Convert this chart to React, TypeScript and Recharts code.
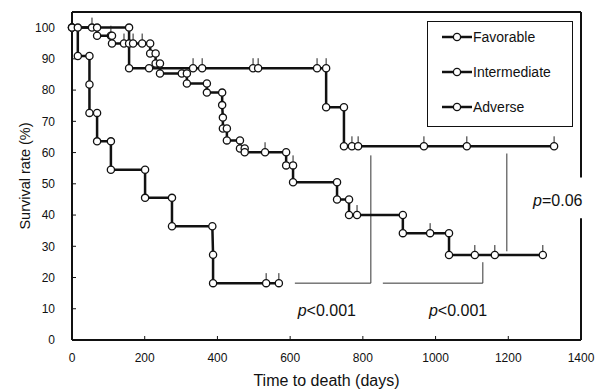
import React from 'react'
import {
  LineChart,
  Line,
  XAxis,
  YAxis,
  ReferenceLine,
  ReferenceDot,
  Legend,
  Label,
} from 'recharts'

// Kaplan-Meier vertices: [day, survival %, censored (1) or not (0)]
const favorable: [number, number, number][] = [
  [0, 100, 0], [55, 100, 1], [157, 100, 0], [157, 87, 0], [212, 87, 0],
  [333, 87, 1], [358, 87, 1], [498, 87, 1], [512, 87, 1], [674, 87, 1],
  [699, 87, 1], [699, 74.5, 0], [748, 74.5, 0], [748, 62, 0], [770, 62, 1],
  [787, 62, 1], [968, 62, 1], [1086, 62, 1], [1326, 62, 1],
]

const intermediate: [number, number, number][] = [
  [0, 100, 0], [69, 100, 0], [69, 97.4, 0], [107, 97.4, 1], [110, 97.4, 0],
  [110, 94.9, 0], [143, 94.9, 1], [157, 94.9, 1], [168, 94.9, 1], [193, 94.9, 1],
  [215, 94.9, 0], [215, 91.7, 0], [230, 91.7, 0], [230, 88.5, 0], [242, 88.5, 0],
  [242, 85.3, 0], [302, 85.3, 0], [316, 85.3, 0], [316, 82.1, 0], [371, 82.1, 0],
  [371, 79.2, 0], [413, 79.2, 0], [413, 75.2, 0], [415, 71.2, 0], [415, 67.7, 0],
  [426, 67.7, 0], [426, 63.9, 0], [462, 63.9, 0], [462, 61.3, 0], [475, 61.3, 0],
  [475, 60.1, 0], [531, 60.1, 1], [589, 60.1, 0], [589, 55.9, 0], [608, 55.9, 1],
  [608, 50.5, 0], [729, 50.5, 0], [729, 45, 0], [762, 45, 0], [762, 40, 0],
  [784, 40, 1], [910, 40, 0], [910, 34.2, 0], [985, 34.2, 1], [1037, 34.2, 0],
  [1037, 27.2, 0], [1108, 27.2, 1], [1163, 27.2, 1], [1295, 27.2, 1],
]

const adverse: [number, number, number][] = [
  [0, 100, 0], [16, 100, 0], [16, 90.9, 0], [48, 90.9, 0], [48, 81.8, 0],
  [48, 72.7, 0], [69, 72.7, 0], [69, 63.6, 0], [107, 63.6, 0], [107, 54.5, 0],
  [201, 54.5, 0], [201, 45.5, 0], [275, 45.5, 0], [275, 36.4, 0], [386, 36.4, 0],
  [388, 27.3, 0], [388, 18.2, 0], [534, 18.2, 1], [569, 18.2, 1],
]

const seriesNames = ['Favorable', 'Intermediate', 'Adverse']
const xTicks = [0, 200, 400, 600, 800, 1000, 1200, 1400]
const yTicks = [0, 10, 20, 30, 40, 50, 60, 70, 80, 90, 100]

// log-rank comparison brackets (day, %)
const brackets: [number, number, number, number][] = [
  [822, 59.1, 822, 18.2],
  [613, 18.2, 822, 18.2],
  [855, 18.2, 1130, 18.2],
  [1130, 18.2, 1130, 24.9],
  [1196, 59.7, 1196, 28.4],
]
const pLabels: { x: number; y: number; text: string }[] = [
  { x: 701, y: 9.6, text: '<0.001' },
  { x: 1062, y: 9.6, text: '<0.001' },
  { x: 1336, y: 44.7, text: '=0.06' },
]

// top and right frame, right side broken by the p label
const frame: [number, number, number, number][] = [
  [0, 105, 1400, 105],
  [1400, 105, 1400, 52],
  [1400, 39, 1400, 0],
]

const font = '"Liberation Sans", Arial, sans-serif'
const ink = '#111'

const toRows = (pts: [number, number, number][]) =>
  pts.map(([d, s, c]) => ({ d, s, c }))

const KmDot = (props: any) => {
  const { cx, cy, payload, index } = props
  if (cx == null || cy == null) return null
  return (
    <g key={`dot-${index}`}>
      {payload.c ? (
        <line x1={cx} x2={cx} y1={cy - 10} y2={cy - 3} stroke="#222" strokeWidth={1} />
      ) : null}
      <circle cx={cx} cy={cy} r={3.6} fill="#fff" stroke={ink} strokeWidth={1.3} />
    </g>
  )
}

const LegendBox = () => (
  <div
    style={{
      border: '1.5px solid #111',
      background: '#fff',
      width: 146,
      height: 106,
      boxSizing: 'border-box',
      paddingLeft: 14,
      fontFamily: font,
      fontSize: 14,
      color: ink,
    }}
  >
    <div style={{ marginTop: -3 }}>
      {seriesNames.map((n) => (
        <div key={n} style={{ height: 35, display: 'flex', alignItems: 'center' }}>
          <svg width={30} height={10}>
            <line x1={0} x2={30} y1={5} y2={5} stroke={ink} strokeWidth={2.5} />
            <circle cx={15} cy={5} r={3.6} fill="#fff" stroke={ink} strokeWidth={1.3} />
          </svg>
          <span style={{ marginLeft: 1 }}>{n}</span>
        </div>
      ))}
    </div>
  </div>
)

const PText = (props: any) => {
  const { cx, cy, text } = props
  return (
    <text x={cx} y={cy} textAnchor="middle" dominantBaseline="central" fontFamily={font} fontSize={16} fill={ink}>
      <tspan fontStyle="italic">p</tspan>
      <tspan>{text}</tspan>
    </text>
  )
}

const groups = [
  { name: 'Favorable', rows: toRows(favorable) },
  { name: 'Intermediate', rows: toRows(intermediate) },
  { name: 'Adverse', rows: toRows(adverse) },
]

export default function App() {
  return (
    <div style={{ position: 'absolute', left: 0, top: 0, background: '#fff' }}>
      <LineChart width={596} height={391} margin={{ top: 12, right: 15, bottom: 0, left: 0 }}>
        <XAxis
          dataKey="d"
          type="number"
          domain={[0, 1400]}
          ticks={xTicks}
          height={51}
          tickSize={-4}
          tickMargin={17}
          axisLine={{ stroke: ink, strokeWidth: 2 }}
          tickLine={{ stroke: ink }}
          tick={{ fontFamily: font, fontSize: 12, fill: ink }}
          allowDuplicatedCategory={false}
        >
          <Label
            value="Time to death (days)"
            position="insideBottom"
            offset={5}
            style={{ fontFamily: font, fontSize: 16, fill: ink }}
          />
        </XAxis>
        <YAxis
          dataKey="s"
          type="number"
          domain={[0, 105]}
          ticks={yTicks}
          width={72}
          tickSize={-4}
          tickMargin={21}
          axisLine={{ stroke: ink, strokeWidth: 2 }}
          tickLine={{ stroke: ink }}
          tick={{ fontFamily: font, fontSize: 12, fill: ink }}
        >
          <Label
            content={(p: any) => {
              const vb = p.viewBox
              const x = vb.x + 25
              const y = vb.y + vb.height / 2
              return (
                <text
                  x={x}
                  y={y}
                  transform={`rotate(-90 ${x} ${y})`}
                  textAnchor="middle"
                  dominantBaseline="central"
                  fontFamily={font}
                  fontSize={14.5}
                  fill={ink}
                >
                  Survival rate (%)
                </text>
              )
            }}
          />
        </YAxis>
        {frame.map(([x1, y1, x2, y2], i) => (
          <ReferenceLine
            key={`f${i}`}
            segment={[{ x: x1, y: y1 }, { x: x2, y: y2 }]}
            stroke={ink}
            strokeWidth={2}
            ifOverflow="visible"
          />
        ))}
        {brackets.map(([x1, y1, x2, y2], i) => (
          <ReferenceLine
            key={`b${i}`}
            segment={[{ x: x1, y: y1 }, { x: x2, y: y2 }]}
            stroke="#333"
            strokeWidth={1}
            ifOverflow="visible"
          />
        ))}
        {groups.map((g) => (
          <Line
            key={g.name}
            name={g.name}
            data={g.rows}
            dataKey="s"
            type="linear"
            stroke={ink}
            strokeWidth={2.5}
            dot={KmDot}
            activeDot={false}
            isAnimationActive={false}
          />
        ))}
        {pLabels.map((p, i) => (
          <ReferenceDot
            key={`p${i}`}
            x={p.x}
            y={p.y}
            r={0}
            ifOverflow="visible"
            shape={(sp: any) => <PText cx={sp.cx} cy={sp.cy} text={p.text} />}
          />
        ))}
        <Legend
          layout="horizontal"
          verticalAlign="middle"
          align="center"
          wrapperStyle={{ left: 427, top: 21, width: 146, height: 106 }}
          content={() => <LegendBox />}
        />
      </LineChart>
    </div>
  )
}
